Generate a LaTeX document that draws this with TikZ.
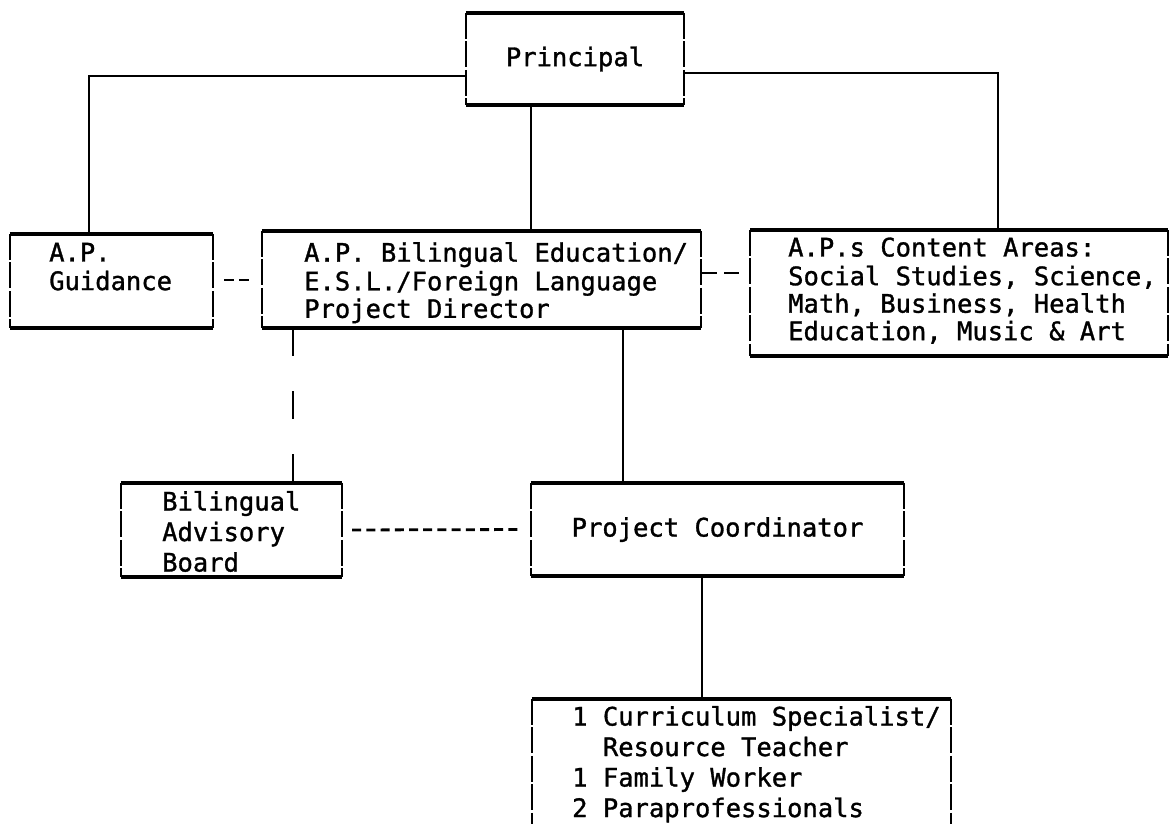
\documentclass[tikz,border=0pt]{standalone}
\usepackage{fontspec}
\setmonofont[FakeBold=1.2]{DejaVu Sans Mono}
\tikzset{
  box/.style={draw=none, inner sep=0pt, rectangle},
  hl/.style={line width=3.6pt},
  vl/.style={line width=2.4pt, dash pattern=on 26pt off 2.5pt},
  conn/.style={line width=2.6pt},
  longdash/.style={line width=2.6pt, dash pattern=on 28pt off 35pt},
  shortdash/.style={line width=2.8pt, dash pattern=on 9pt off 5.2pt},
  txt/.style={inner sep=0pt, anchor=north west, align=left,
    font=\fontsize{25.5}{27.5}\selectfont\ttfamily},
  txtw/.style={inner sep=0pt, anchor=north west, align=left,
    font=\fontsize{25.5}{30.5}\selectfont\ttfamily},
  ctxt/.style={font=\fontsize{25.5}{27.5}\selectfont\ttfamily}
}
\begin{document}
\begin{tikzpicture}[x=1pt,y=-1pt]
\useasboundingbox[fill=white] (0,0) rectangle (1172,824);

% boxes
\node[box, ctxt, minimum width=218pt, minimum height=92pt] (P) at (575,59) {Principal};
\node[box, minimum width=203pt, minimum height=94pt] (G) at (111.5,281) {};
\node[box, minimum width=439pt, minimum height=97pt] (B) at (481.5,279.5) {};
\node[box, minimum width=418pt, minimum height=126pt] (C) at (959,293) {};
\node[box, minimum width=221pt, minimum height=94pt] (A) at (231.5,530) {};
\node[box, ctxt, minimum width=373pt, minimum height=93pt] (PC) at (717.5,529.5) {Project Coordinator};
\node[box, minimum width=419pt, minimum height=132pt] (S) at (741.5,765) {};

% texts
\node[txt] (Gt) at (49,242) {\strut A.P.\\Guidance};
\node[txt] (Bt) at (304,242) {\strut A.P. Bilingual Education/\\E.S.L./Foreign Language\\Project Director};
\node[txt] (Ct) at (788,237) {\strut A.P.s Content Areas:\\Social Studies, Science,\\Math, Business, Health\\Education, Music \& Art};
\node[txtw] (At) at (162,489) {\strut Bilingual\\Advisory\\Board};
\node[txtw] (St) at (572,704) {\strut 1 Curriculum Specialist/\\\phantom{1 }Resource Teacher\\1 Family Worker\\2 Paraprofessionals};

% box outlines
\foreach \n in {P,G,B,C,A,PC} {
  \draw[hl] (\n.north west) -- (\n.north east);
  \draw[hl] (\n.south west) -- (\n.south east);
  \draw[vl] (\n.north west) -- (\n.south west);
  \draw[vl] (\n.north east) -- (\n.south east);
}
\draw[hl] (S.north west) -- (S.north east);
\draw[vl] (S.north west) -- (S.south west);
\draw[vl] (S.north east) -- (S.south east);

% connectors
\draw[conn] (P.west |- 0,76) -| (G.north -| 89,0);
\draw[conn] (P.east |- 0,73) -| (C.north -| 998,0);
\draw[conn] (P.south -| 531,0) -- (B.north -| 531,0);
\draw[longdash] (B.south -| 293,0) -- (A.north -| 293,0);
\draw[conn] (B.south -| 623,0) -- (PC.north -| 623,0);
\draw[conn] (PC.south -| 702,0) -- (S.north -| 702,0);
\draw[shortdash, shorten <=10pt, shorten >=9pt] (A.east) -- (PC.west);
\draw[line width=2.8pt, dash pattern=on 10pt off 5pt, shorten <=11pt, shorten >=10pt] (G.east |- 0,280) -- (B.west |- 0,280);
\draw[line width=2.8pt, dash pattern=on 15pt off 7pt, shorten <=1pt, shorten >=11pt] (B.east |- 0,273) -- (C.west |- 0,273);
\end{tikzpicture}
\end{document}
